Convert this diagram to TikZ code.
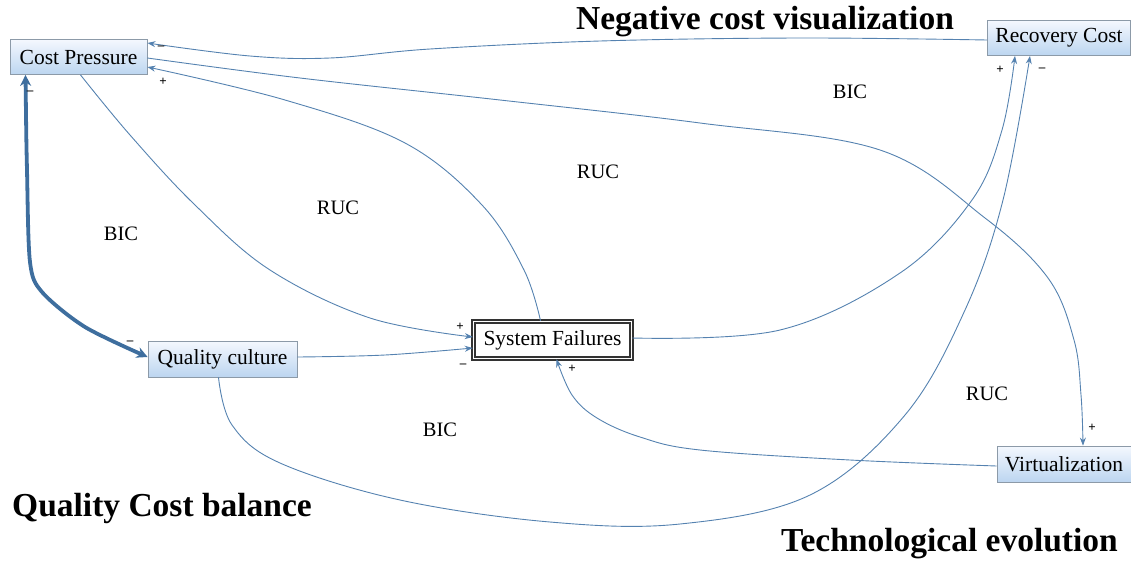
\documentclass[tikz,border=0pt]{standalone}
\usepackage{fontspec}
\setmainfont{Liberation Serif}
\usetikzlibrary{arrows.meta,shadings}
\definecolor{linkblue}{HTML}{5582B0}
\definecolor{thickblue}{HTML}{3E6E9E}
\definecolor{boxedge}{HTML}{8C9AA8}
\definecolor{boxtop}{HTML}{F4F8FE}
\definecolor{boxbot}{HTML}{BCD5F0}
\tikzset{
  varbox/.style={draw=boxedge, line width=0.8pt, top color=boxtop, bottom color=boxbot,
    inner sep=0pt, font=\fontsize{21.5}{25}\selectfont, minimum height=35pt},
  corebox/.style={draw=black!80, line width=1.5pt, double=white, double distance=1.6pt,
    fill=white, inner sep=0pt, font=\fontsize{21.5}{25}\selectfont},
  conn/.style={draw=linkblue, line width=0.9pt, -{Stealth[length=8pt,width=6pt]}},
  bold conn/.style={draw=thickblue, line width=3.8pt,
    {Stealth[length=11pt,width=11pt]}-{Stealth[length=11pt,width=11pt]}},
  looplabel/.style={font=\fontsize{20.5}{24}\selectfont},
  sign/.style={font=\fontsize{13}{15}\selectfont\bfseries, inner sep=0pt},
  heading/.style={font=\fontsize{33.5}{38}\selectfont\bfseries, inner sep=0pt}
}
\begin{document}
\begin{tikzpicture}[x=1pt,y=-1pt]
\useasboundingbox (0,0) rectangle (1131,560);

% variables
\node[varbox, minimum width=137pt] (cp) at (78.5,57) {Cost Pressure};
\node[varbox, minimum width=143pt] (rc) at (1059,38) {Recovery Cost};
\node[varbox, minimum width=149pt, minimum height=36pt] (qc) at (222.5,359) {Quality culture};
\node[corebox, minimum width=158pt, minimum height=37pt] (sf) at (552.5,340) {System Failures};
\node[varbox, minimum width=134pt, minimum height=36pt] (vz) at (1064,464) {Virtualization};

% headings
\node[heading] (h1) at (765,22) {Negative cost visualization};
\node[heading, anchor=west] (h2) at (12,508) {Quality Cost balance};
\node[heading, anchor=east] (h3) at (1118,544) {Technological evolution};

% loop labels
\node[looplabel] (l1) at (121,234) {BIC};
\node[looplabel] (l2) at (338,208) {RUC};
\node[looplabel] (l3) at (598,172) {RUC};
\node[looplabel] (l4) at (850,92) {BIC};
\node[looplabel] (l5) at (440,430) {BIC};
\node[looplabel] (l6) at (987,394) {RUC};

% causal links
\draw[conn] plot[smooth, tension=0.6] coordinates {([yshift=-2pt]rc.west) (800,38) (600,41) (430,49) (330,58) (250,56) ([yshift=14pt]cp.east)};
\draw[conn] plot[smooth, tension=0.6] coordinates {([yshift=-1pt]cp.east) (300,78) (500,100) (700,123) (880,150) (985,218) (1048,278) (1074,340) (1081,395) ([xshift=19pt]vz.north)};
\draw[conn] plot[smooth, tension=0.6] coordinates {([xshift=-12pt]sf.north) (524,270) (482,205) (405,143) (285,100) ([yshift=-10pt]cp.east)};
\draw[conn] plot[smooth, tension=0.6] coordinates {([xshift=2pt]cp.south) (130,135) (195,205) (270,270) (370,318) ([yshift=3pt]sf.west)};
\draw[conn] plot[smooth, tension=0.6] coordinates {([yshift=2pt]qc.east) (385,355) ([yshift=-8pt]sf.west)};
\draw[conn] plot[smooth, tension=0.6] coordinates {([yshift=2pt]sf.east) (780,330) (900,273) (972,200) (1002,130) ([xshift=-44pt]rc.south)};
\draw[conn] plot[smooth, tension=0.6] coordinates {([xshift=-4pt]qc.south) (232,425) (280,463) (400,500) (550,522) (680,524) (810,495) (905,415) (965,310) (1003,200) ([xshift=-29pt]rc.south)};
\draw[conn] plot[smooth, tension=0.6] coordinates {([yshift=-2pt]vz.west) (850,460) (700,450) (640,437) (597,418) (572,395) ([xshift=4pt]sf.south)};
\draw[bold conn] plot[smooth, tension=0.5] coordinates {([xshift=-53pt]cp.south) (27,170) (30,262) (42,292) (85,327) ([yshift=2pt]qc.west)};

% polarity signs
\node[sign] (s1) at (161,48) {\textendash};
\node[sign] (s2) at (163,82) {+};
\node[sign] (s3) at (460,327) {+};
\node[sign] (s4) at (463,366) {\textendash};
\node[sign] (s5) at (1000,70) {+};
\node[sign] (s6) at (1042,70) {\textendash};
\node[sign] (s7) at (572,369) {+};
\node[sign] (s8) at (1092,428) {+};
\node[sign] (s9) at (30,93) {\textendash};
\node[sign] (s10) at (130,343) {\textendash};
\end{tikzpicture}
\end{document}
